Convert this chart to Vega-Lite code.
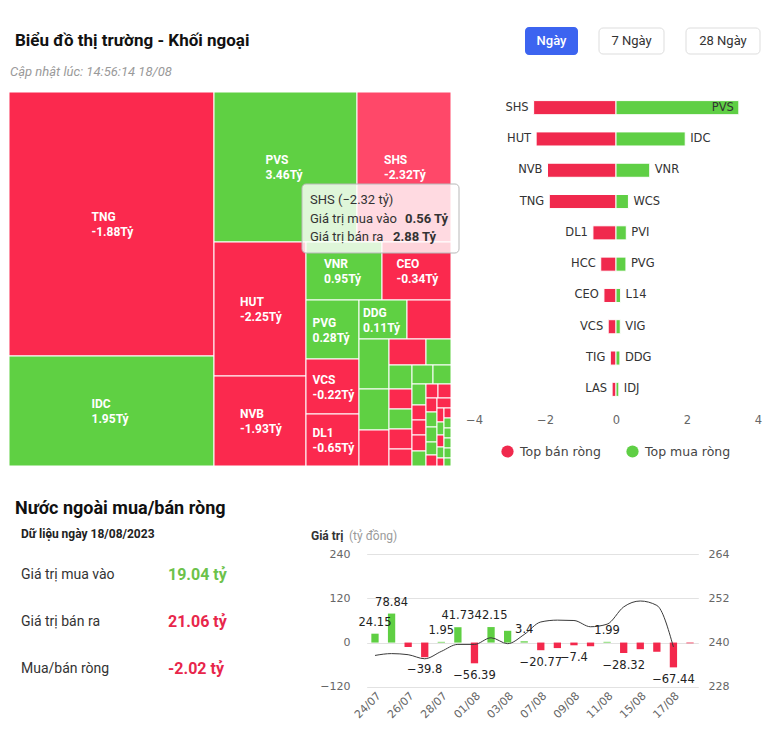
{
  "$schema": "https://vega.github.io/schema/vega-lite/v6.json",
  "width": 771,
  "height": 746,
  "autosize": {"type": "none"},
  "padding": 0,
  "background": "white",
  "config": {"view": {"stroke": null}, "font": "Roboto"},
  "datasets": {
    "treemap": [
      {"ma": "TNG", "rong": -1.88, "x0": 0, "x1": 205, "y0": 0, "y1": 264},
      {"ma": "IDC", "rong": 1.95, "x0": 0, "x1": 205, "y0": 264, "y1": 374},
      {"ma": "PVS", "rong": 3.46, "x0": 205, "x1": 348, "y0": 0, "y1": 150},
      {"ma": "SHS", "rong": -2.32, "mua": 0.56, "ban": 2.88, "x0": 348, "x1": 442, "y0": 0, "y1": 150},
      {"ma": "HUT", "rong": -2.25, "x0": 205, "x1": 297, "y0": 150, "y1": 284},
      {"ma": "NVB", "rong": -1.93, "x0": 205, "x1": 297, "y0": 284, "y1": 374},
      {"ma": "VNR", "rong": 0.95, "x0": 297, "x1": 373, "y0": 150, "y1": 208},
      {"ma": "CEO", "rong": -0.34, "x0": 373, "x1": 442, "y0": 150, "y1": 208},
      {"ma": "PVG", "rong": 0.28, "x0": 297, "x1": 350, "y0": 208, "y1": 267},
      {"ma": "VCS", "rong": -0.22, "x0": 297, "x1": 350, "y0": 267, "y1": 322},
      {"ma": "DL1", "rong": -0.65, "x0": 297, "x1": 350, "y0": 322, "y1": 374},
      {"ma": "DDG", "rong": 0.11, "x0": 350, "x1": 398, "y0": 208, "y1": 247},
      {"ma": "HCC", "rong": -0.43, "x0": 398, "x1": 442, "y0": 208, "y1": 247},
      {"ma": "WCS", "rong": 0.35, "x0": 350, "x1": 380, "y0": 247, "y1": 297},
      {"ma": "PVI", "rong": 0.29, "x0": 350, "x1": 380, "y0": 297, "y1": 338},
      {"ma": "TIG", "rong": -0.16, "x0": 350, "x1": 380, "y0": 338, "y1": 374},
      {"ma": "LAS", "rong": -0.11, "x0": 380, "x1": 417, "y0": 247, "y1": 273},
      {"ma": "L14", "rong": 0.13, "x0": 417, "x1": 442, "y0": 247, "y1": 273},
      {"ma": "VIG", "rong": 0.12, "x0": 380, "x1": 403, "y0": 273, "y1": 297},
      {"ma": "IDJ", "rong": 0.08, "x0": 403, "x1": 424, "y0": 273, "y1": 292},
      {"rong": 0.05, "x0": 424, "x1": 442, "y0": 273, "y1": 292},
      {"rong": -0.06, "x0": 380, "x1": 403, "y0": 297, "y1": 317},
      {"rong": 0.05, "x0": 380, "x1": 403, "y0": 317, "y1": 337},
      {"rong": -0.05, "x0": 380, "x1": 403, "y0": 337, "y1": 357},
      {"rong": -0.04, "x0": 380, "x1": 403, "y0": 357, "y1": 374},
      {"rong": 0.04, "x0": 403, "x1": 417, "y0": 292, "y1": 313},
      {"rong": -0.04, "x0": 403, "x1": 417, "y0": 313, "y1": 328},
      {"rong": -0.03, "x0": 403, "x1": 417, "y0": 328, "y1": 343},
      {"rong": -0.03, "x0": 403, "x1": 417, "y0": 343, "y1": 359},
      {"rong": 0.03, "x0": 403, "x1": 417, "y0": 359, "y1": 374},
      {"rong": -0.03, "x0": 417, "x1": 429, "y0": 292, "y1": 306},
      {"rong": -0.03, "x0": 429, "x1": 442, "y0": 292, "y1": 306},
      {"rong": -0.02, "x0": 417, "x1": 428, "y0": 306, "y1": 320},
      {"rong": 0.02, "x0": 417, "x1": 428, "y0": 320, "y1": 335},
      {"rong": 0.02, "x0": 417, "x1": 428, "y0": 335, "y1": 350},
      {"rong": 0.02, "x0": 417, "x1": 428, "y0": 350, "y1": 363},
      {"rong": -0.02, "x0": 417, "x1": 428, "y0": 363, "y1": 374},
      {"rong": -0.02, "x0": 428, "x1": 442, "y0": 306, "y1": 316},
      {"rong": -0.01, "x0": 428, "x1": 435, "y0": 316, "y1": 330},
      {"rong": 0.01, "x0": 428, "x1": 435, "y0": 330, "y1": 343},
      {"rong": -0.01, "x0": 428, "x1": 435, "y0": 343, "y1": 355},
      {"rong": 0.01, "x0": 428, "x1": 435, "y0": 355, "y1": 366},
      {"rong": -0.01, "x0": 428, "x1": 435, "y0": 366, "y1": 374},
      {"rong": -0.01, "x0": 435, "x1": 442, "y0": 316, "y1": 326},
      {"rong": 0.01, "x0": 435, "x1": 442, "y0": 326, "y1": 336},
      {"rong": 0.01, "x0": 435, "x1": 442, "y0": 336, "y1": 346},
      {"rong": 0.01, "x0": 435, "x1": 442, "y0": 346, "y1": 356},
      {"rong": 0.01, "x0": 435, "x1": 442, "y0": 356, "y1": 366},
      {"rong": 0.01, "x0": 435, "x1": 442, "y0": 366, "y1": 374}
    ],
    "top": [
      {"hang": 1, "ma": "SHS", "rong": -2.32, "nhom": "Top bán ròng"},
      {"hang": 2, "ma": "HUT", "rong": -2.25, "nhom": "Top bán ròng"},
      {"hang": 3, "ma": "NVB", "rong": -1.93, "nhom": "Top bán ròng"},
      {"hang": 4, "ma": "TNG", "rong": -1.88, "nhom": "Top bán ròng"},
      {"hang": 5, "ma": "DL1", "rong": -0.65, "nhom": "Top bán ròng"},
      {"hang": 6, "ma": "HCC", "rong": -0.43, "nhom": "Top bán ròng"},
      {"hang": 7, "ma": "CEO", "rong": -0.34, "nhom": "Top bán ròng"},
      {"hang": 8, "ma": "VCS", "rong": -0.22, "nhom": "Top bán ròng"},
      {"hang": 9, "ma": "TIG", "rong": -0.16, "nhom": "Top bán ròng"},
      {"hang": 10, "ma": "LAS", "rong": -0.11, "nhom": "Top bán ròng"},
      {"hang": 1, "ma": "PVS", "rong": 3.46, "nhom": "Top mua ròng"},
      {"hang": 2, "ma": "IDC", "rong": 1.95, "nhom": "Top mua ròng"},
      {"hang": 3, "ma": "VNR", "rong": 0.95, "nhom": "Top mua ròng"},
      {"hang": 4, "ma": "WCS", "rong": 0.35, "nhom": "Top mua ròng"},
      {"hang": 5, "ma": "PVI", "rong": 0.29, "nhom": "Top mua ròng"},
      {"hang": 6, "ma": "PVG", "rong": 0.28, "nhom": "Top mua ròng"},
      {"hang": 7, "ma": "L14", "rong": 0.13, "nhom": "Top mua ròng"},
      {"hang": 8, "ma": "VIG", "rong": 0.12, "nhom": "Top mua ròng"},
      {"hang": 9, "ma": "DDG", "rong": 0.11, "nhom": "Top mua ròng"},
      {"hang": 10, "ma": "IDJ", "rong": 0.08, "nhom": "Top mua ròng"}
    ],
    "nn": [
      {"ngay": "24/07", "rong": 24.15, "chiso": 236.5},
      {"ngay": "25/07", "rong": 78.84, "chiso": 237.0},
      {"ngay": "26/07", "rong": -12.0, "chiso": 236.7},
      {"ngay": "27/07", "rong": -39.8, "chiso": 235.6},
      {"ngay": "28/07", "rong": 1.95, "chiso": 237.6},
      {"ngay": "31/07", "rong": 41.73, "chiso": 239.5},
      {"ngay": "01/08", "rong": -56.39, "chiso": 239.5},
      {"ngay": "02/08", "rong": 42.15, "chiso": 241.3},
      {"ngay": "03/08", "rong": 32.0, "chiso": 239.7},
      {"ngay": "04/08", "rong": 3.4, "chiso": 242.2},
      {"ngay": "07/08", "rong": -20.77, "chiso": 245.6},
      {"ngay": "08/08", "rong": -15.0, "chiso": 246.1},
      {"ngay": "09/08", "rong": -7.4, "chiso": 246.0},
      {"ngay": "10/08", "rong": -10.0, "chiso": 244.3},
      {"ngay": "11/08", "rong": 1.99, "chiso": 245.0},
      {"ngay": "14/08", "rong": -28.32, "chiso": 249.7},
      {"ngay": "15/08", "rong": -18.0, "chiso": 251.3},
      {"ngay": "16/08", "rong": -25.0, "chiso": 250.1},
      {"ngay": "17/08", "rong": -67.44, "chiso": 238.8},
      {"ngay": "18/08", "rong": -2.02, "chiso": null}
    ],
    "tongket": [
      {"muc": "Giá trị mua vào", "gia_tri": 19.04},
      {"muc": "Giá trị bán ra", "gia_tri": 21.06},
      {"muc": "Mua/bán ròng", "gia_tri": -2.02}
    ]
  },
  "resolve": {
    "scale": {"x": "independent", "y": "independent", "color": "independent"},
    "axis": {"x": "independent", "y": "independent"},
    "legend": {"color": "independent"}
  },
  "layer": [
    {
      "data": {"values": [{}]},
      "mark": {"type": "text", "text": "Biểu đồ thị trường - Khối ngoại", "x": 15, "y": 41, "align": "left", "baseline": "middle", "fontSize": 17, "fontWeight": "bold", "color": "#111"},
      "encoding": {}
    },
    {
      "data": {"values": [{}]},
      "mark": {"type": "text", "text": "Cập nhật lúc: 14:56:14 18/08", "x": 10, "y": 72, "align": "left", "baseline": "middle", "fontSize": 13, "fontStyle": "italic", "color": "#9a9a9a"},
      "encoding": {}
    },
    {
      "data": {"values": [{}]},
      "mark": {"type": "rect", "x": 525, "x2": 578, "y": 27, "y2": 55, "fill": "#3c64f0", "cornerRadius": 4},
      "encoding": {}
    },
    {
      "data": {"values": [{}]},
      "mark": {"type": "rect", "x": 599, "x2": 664, "y": 28, "y2": 54, "fill": "white", "stroke": "#dddddd", "cornerRadius": 4},
      "encoding": {}
    },
    {
      "data": {"values": [{}]},
      "mark": {"type": "rect", "x": 686, "x2": 760, "y": 28, "y2": 54, "fill": "white", "stroke": "#dddddd", "cornerRadius": 4},
      "encoding": {}
    },
    {
      "data": {"values": [{}]},
      "mark": {"type": "text", "text": "Ngày", "x": 551.5, "y": 41, "align": "center", "baseline": "middle", "fontSize": 13, "fontWeight": 500, "color": "white"},
      "encoding": {}
    },
    {
      "data": {"values": [{}]},
      "mark": {"type": "text", "text": "7 Ngày", "x": 631.5, "y": 41, "align": "center", "baseline": "middle", "fontSize": 13, "color": "#333"},
      "encoding": {}
    },
    {
      "data": {"values": [{}]},
      "mark": {"type": "text", "text": "28 Ngày", "x": 723, "y": 41, "align": "center", "baseline": "middle", "fontSize": 13, "color": "#333"},
      "encoding": {}
    },
    {
      "data": {"name": "treemap"},
      "mark": {"type": "rect", "stroke": "white", "strokeWidth": 1},
      "encoding": {
        "x": {"field": "x0", "type": "quantitative", "scale": {"domain": [0, 442], "range": [9, 451], "nice": false, "zero": false}, "axis": null},
        "x2": {"field": "x1"},
        "y": {"field": "y0", "type": "quantitative", "scale": {"domain": [0, 374], "range": [92, 466], "nice": false, "zero": false}, "axis": null},
        "y2": {"field": "y1"},
        "color": {"condition": [{"test": "datum.ma === 'SHS'", "value": "#ff4869"}, {"test": "datum.rong < 0", "value": "#fb294e"}], "value": "#5fd043"}
      }
    },
    {
      "data": {"name": "treemap"},
      "transform": [
        {"filter": "datum.x1 - datum.x0 >= 45 && datum.y1 - datum.y0 >= 38"},
        {"calculate": "(datum.x0 + datum.x1) / 2", "as": "cx"},
        {"calculate": "(datum.y0 + datum.y1) / 2", "as": "cy"}
      ],
      "mark": {"type": "text", "align": "left", "baseline": "middle", "dx": -20, "dy": -7, "fontSize": 12, "fontWeight": "bold", "color": "white"},
      "encoding": {
        "x": {"field": "cx", "type": "quantitative", "scale": {"domain": [0, 442], "range": [9, 451], "nice": false, "zero": false}, "axis": null},
        "y": {"field": "cy", "type": "quantitative", "scale": {"domain": [0, 374], "range": [92, 466], "nice": false, "zero": false}, "axis": null},
        "text": {"field": "ma"}
      }
    },
    {
      "data": {"name": "treemap"},
      "transform": [
        {"filter": "datum.x1 - datum.x0 >= 45 && datum.y1 - datum.y0 >= 38"},
        {"calculate": "(datum.x0 + datum.x1) / 2", "as": "cx"},
        {"calculate": "(datum.y0 + datum.y1) / 2", "as": "cy"},
        {"calculate": "datum.rong + 'Tỷ'", "as": "nhan"}
      ],
      "mark": {"type": "text", "align": "left", "baseline": "middle", "dx": -20, "dy": 8, "fontSize": 12, "fontWeight": "bold", "color": "white"},
      "encoding": {
        "x": {"field": "cx", "type": "quantitative", "scale": {"domain": [0, 442], "range": [9, 451], "nice": false, "zero": false}, "axis": null},
        "y": {"field": "cy", "type": "quantitative", "scale": {"domain": [0, 374], "range": [92, 466], "nice": false, "zero": false}, "axis": null},
        "text": {"field": "nhan"}
      }
    },
    {
      "data": {"values": [{}]},
      "mark": {"type": "rect", "x": 302, "x2": 459, "y": 184, "y2": 253, "fill": "white", "fillOpacity": 0.8, "stroke": "#b8b8b8", "strokeWidth": 1, "cornerRadius": 4},
      "encoding": {}
    },
    {
      "data": {"name": "treemap"},
      "transform": [{"filter": "datum.ma === 'SHS'"}, {"calculate": "datum.ma + ' (' + format(datum.rong, '.2f') + ' tỷ)'", "as": "dong"}],
      "mark": {"type": "text", "x": 310, "y": 200, "align": "left", "baseline": "middle", "fontSize": 13, "color": "#333"},
      "encoding": {"text": {"field": "dong"}}
    },
    {
      "data": {"values": [{}]},
      "mark": {"type": "text", "text": "Giá trị mua vào", "x": 310, "y": 218.5, "align": "left", "baseline": "middle", "fontSize": 13, "color": "#333"},
      "encoding": {}
    },
    {
      "data": {"name": "treemap"},
      "transform": [{"filter": "datum.ma === 'SHS'"}, {"calculate": "format(datum.mua, '.2f') + ' Tỷ'", "as": "dong"}],
      "mark": {"type": "text", "x": 405, "y": 218.5, "align": "left", "baseline": "middle", "fontSize": 13, "fontWeight": "bold", "color": "#333"},
      "encoding": {"text": {"field": "dong"}}
    },
    {
      "data": {"values": [{}]},
      "mark": {"type": "text", "text": "Giá trị bán ra", "x": 310, "y": 237, "align": "left", "baseline": "middle", "fontSize": 13, "color": "#333"},
      "encoding": {}
    },
    {
      "data": {"name": "treemap"},
      "transform": [{"filter": "datum.ma === 'SHS'"}, {"calculate": "format(datum.ban, '.2f') + ' Tỷ'", "as": "dong"}],
      "mark": {"type": "text", "x": 393, "y": 237, "align": "left", "baseline": "middle", "fontSize": 13, "fontWeight": "bold", "color": "#333"},
      "encoding": {"text": {"field": "dong"}}
    },
    {
      "data": {"name": "top"},
      "mark": {"type": "bar", "stroke": "white", "strokeWidth": 1},
      "encoding": {
        "y": {"field": "hang", "type": "ordinal", "scale": {"type": "band", "domain": [1, 2, 3, 4, 5, 6, 7, 8, 9, 10], "range": [92, 405], "paddingInner": 0.55, "paddingOuter": 0.275}, "axis": null},
        "x": {"field": "rong", "type": "quantitative", "stack": null, "scale": {"domain": [-4, 4], "range": [474, 758], "nice": false, "zero": false},
          "axis": {"orient": "bottom", "offset": -336, "values": [-4, -2, 0, 2, 4], "title": null, "grid": false, "domain": false, "ticks": false, "tickSize": 0, "labelPadding": 4, "labelColor": "#666", "labelFontSize": 11.5, "labelFont": "DejaVu Sans", "labelFlush": false}},
        "color": {"field": "nhom", "type": "nominal", "scale": {"domain": ["Top bán ròng", "Top mua ròng"], "range": ["#f0294d", "#5fcf45"]},
          "legend": {"orient": "none", "legendX": 501, "legendY": 445, "direction": "horizontal", "title": null, "symbolType": "circle", "symbolSize": 150, "symbolStrokeWidth": 0, "labelFont": "DejaVu Sans", "labelFontSize": 12.5, "labelColor": "#444", "labelOffset": 6, "columnPadding": 25, "padding": 0}}
      }
    },
    {
      "data": {"name": "top"},
      "transform": [{"filter": "datum.rong < 0"}],
      "mark": {"type": "text", "align": "right", "baseline": "middle", "dx": -5, "fontSize": 11.5, "font": "DejaVu Sans", "color": "#333"},
      "encoding": {
        "y": {"field": "hang", "type": "ordinal", "scale": {"type": "band", "domain": [1, 2, 3, 4, 5, 6, 7, 8, 9, 10], "range": [92, 405], "paddingInner": 0.55, "paddingOuter": 0.275}, "axis": null},
        "x": {"field": "rong", "type": "quantitative", "scale": {"domain": [-4, 4], "range": [474, 758], "nice": false, "zero": false}, "axis": null},
        "text": {"field": "ma"}
      }
    },
    {
      "data": {"name": "top"},
      "transform": [{"filter": "datum.rong >= 0 && datum.rong <= 3"}],
      "mark": {"type": "text", "align": "left", "baseline": "middle", "dx": 5, "fontSize": 11.5, "font": "DejaVu Sans", "color": "#333"},
      "encoding": {
        "y": {"field": "hang", "type": "ordinal", "scale": {"type": "band", "domain": [1, 2, 3, 4, 5, 6, 7, 8, 9, 10], "range": [92, 405], "paddingInner": 0.55, "paddingOuter": 0.275}, "axis": null},
        "x": {"field": "rong", "type": "quantitative", "scale": {"domain": [-4, 4], "range": [474, 758], "nice": false, "zero": false}, "axis": null},
        "text": {"field": "ma"}
      }
    },
    {
      "data": {"name": "top"},
      "transform": [{"filter": "datum.rong > 3"}],
      "mark": {"type": "text", "align": "right", "baseline": "middle", "dx": -5, "fontSize": 11.5, "font": "DejaVu Sans", "color": "#333"},
      "encoding": {
        "y": {"field": "hang", "type": "ordinal", "scale": {"type": "band", "domain": [1, 2, 3, 4, 5, 6, 7, 8, 9, 10], "range": [92, 405], "paddingInner": 0.55, "paddingOuter": 0.275}, "axis": null},
        "x": {"field": "rong", "type": "quantitative", "scale": {"domain": [-4, 4], "range": [474, 758], "nice": false, "zero": false}, "axis": null},
        "text": {"field": "ma"}
      }
    },
    {
      "data": {"values": [{}]},
      "mark": {"type": "text", "text": "Nước ngoài mua/bán ròng", "x": 15, "y": 509, "align": "left", "baseline": "middle", "fontSize": 18, "fontWeight": "bold", "color": "#111"},
      "encoding": {}
    },
    {
      "data": {"values": [{}]},
      "mark": {"type": "text", "text": "Dữ liệu ngày 18/08/2023", "x": 21, "y": 534, "align": "left", "baseline": "middle", "fontSize": 12, "fontWeight": "bold", "color": "#222"},
      "encoding": {}
    },
    {
      "data": {"name": "tongket"},
      "mark": {"type": "text", "x": 21, "align": "left", "baseline": "middle", "fontSize": 14, "color": "#333"},
      "encoding": {
        "y": {"field": "muc", "type": "nominal", "sort": null, "scale": {"type": "point", "domain": ["Giá trị mua vào", "Giá trị bán ra", "Mua/bán ròng"], "range": [575, 669], "padding": 0}, "axis": null},
        "text": {"field": "muc"}
      }
    },
    {
      "data": {"name": "tongket"},
      "transform": [{"calculate": "datum.gia_tri + ' tỷ'", "as": "nhan"}],
      "mark": {"type": "text", "x": 168, "align": "left", "baseline": "middle", "fontSize": 16, "fontWeight": "bold"},
      "encoding": {
        "y": {"field": "muc", "type": "nominal", "sort": null, "scale": {"type": "point", "domain": ["Giá trị mua vào", "Giá trị bán ra", "Mua/bán ròng"], "range": [575, 669], "padding": 0}, "axis": null},
        "text": {"field": "nhan"},
        "color": {"condition": {"test": "datum.muc === 'Giá trị bán ra' || datum.gia_tri < 0", "value": "#e8264b"}, "value": "#6cc24a"}
      }
    },
    {
      "data": {"values": [{}]},
      "mark": {"type": "text", "text": "Giá trị", "x": 311, "y": 536, "align": "left", "baseline": "middle", "fontSize": 12, "fontWeight": "bold", "color": "#333"},
      "encoding": {}
    },
    {
      "data": {"values": [{}]},
      "mark": {"type": "text", "text": "(tỷ đồng)", "x": 349, "y": 536, "align": "left", "baseline": "middle", "fontSize": 12, "color": "#9a9a9a"},
      "encoding": {}
    },
    {
      "data": {"name": "nn"},
      "mark": {"type": "bar"},
      "encoding": {
        "x": {"field": "ngay", "type": "ordinal", "sort": null,
          "scale": {"type": "band", "domain": ["24/07", "25/07", "26/07", "27/07", "28/07", "31/07", "01/08", "02/08", "03/08", "04/08", "07/08", "08/08", "09/08", "10/08", "11/08", "14/08", "15/08", "16/08", "17/08", "18/08"], "range": [366.7, 698.3], "paddingInner": 0.56, "paddingOuter": 0.28},
          "axis": {"orient": "bottom", "offset": -59.3, "values": ["24/07", "26/07", "28/07", "01/08", "03/08", "07/08", "09/08", "11/08", "15/08", "17/08"], "title": null, "grid": false, "domain": false, "ticks": false, "tickSize": 0, "labelPadding": 3, "labelAngle": -45, "labelColor": "#666", "labelFontSize": 11, "labelFont": "DejaVu Sans"}},
        "y": {"field": "rong", "type": "quantitative", "scale": {"domain": [-120, 240], "range": [686.7, 554.3], "nice": false, "zero": false},
          "axis": {"orient": "left", "offset": -356, "values": [-120, 0, 120, 240], "title": null, "grid": true, "gridColor": "#e2e2e2", "domain": false, "ticks": false, "tickSize": 0, "labelPadding": 6, "labelColor": "#666", "labelFontSize": 11, "labelFont": "DejaVu Sans"}},
        "color": {"condition": {"test": "datum.rong < 0", "value": "#f3284c"}, "value": "#5fcf43"}
      }
    },
    {
      "data": {"name": "nn"},
      "mark": {"type": "line", "interpolate": "monotone", "color": "#3a3a3a", "strokeWidth": 1},
      "transform": [{"filter": "isValid(datum.chiso)"}],
      "encoding": {
        "x": {"field": "ngay", "type": "ordinal", "sort": null,
          "scale": {"type": "band", "domain": ["24/07", "25/07", "26/07", "27/07", "28/07", "31/07", "01/08", "02/08", "03/08", "04/08", "07/08", "08/08", "09/08", "10/08", "11/08", "14/08", "15/08", "16/08", "17/08", "18/08"], "range": [366.7, 698.3], "paddingInner": 0.56, "paddingOuter": 0.28}, "axis": null},
        "y": {"field": "chiso", "type": "quantitative", "scale": {"domain": [228, 264], "range": [686.7, 554.3], "nice": false, "zero": false},
          "axis": {"orient": "right", "offset": -69, "values": [228, 240, 252, 264], "title": null, "grid": false, "domain": false, "ticks": false, "tickSize": 0, "labelPadding": 6, "labelColor": "#666", "labelFontSize": 11, "labelFont": "DejaVu Sans"}}
      }
    },
    {
      "data": {"name": "nn"},
      "transform": [{"filter": {"field": "ngay", "oneOf": ["24/07", "25/07", "27/07", "28/07", "31/07", "01/08", "02/08", "04/08", "07/08", "09/08", "11/08", "14/08", "17/08"]}}, {"filter": "datum.rong >= 0"}],
      "mark": {"type": "text", "baseline": "middle", "align": "center", "dy": -11, "fontSize": 11.5, "font": "DejaVu Sans", "color": "#222"},
      "encoding": {
        "x": {"field": "ngay", "type": "ordinal", "sort": null,
          "scale": {"type": "band", "domain": ["24/07", "25/07", "26/07", "27/07", "28/07", "31/07", "01/08", "02/08", "03/08", "04/08", "07/08", "08/08", "09/08", "10/08", "11/08", "14/08", "15/08", "16/08", "17/08", "18/08"], "range": [366.7, 698.3], "paddingInner": 0.56, "paddingOuter": 0.28}, "axis": null},
        "y": {"field": "rong", "type": "quantitative", "scale": {"domain": [-120, 240], "range": [686.7, 554.3], "nice": false, "zero": false}, "axis": null},
        "text": {"field": "rong", "type": "quantitative", "format": ".2~f"}
      }
    },
    {
      "data": {"name": "nn"},
      "transform": [{"filter": {"field": "ngay", "oneOf": ["24/07", "25/07", "27/07", "28/07", "31/07", "01/08", "02/08", "04/08", "07/08", "09/08", "11/08", "14/08", "17/08"]}}, {"filter": "datum.rong < 0"}],
      "mark": {"type": "text", "baseline": "middle", "align": "center", "dy": 13, "fontSize": 11.5, "font": "DejaVu Sans", "color": "#222"},
      "encoding": {
        "x": {"field": "ngay", "type": "ordinal", "sort": null,
          "scale": {"type": "band", "domain": ["24/07", "25/07", "26/07", "27/07", "28/07", "31/07", "01/08", "02/08", "03/08", "04/08", "07/08", "08/08", "09/08", "10/08", "11/08", "14/08", "15/08", "16/08", "17/08", "18/08"], "range": [366.7, 698.3], "paddingInner": 0.56, "paddingOuter": 0.28}, "axis": null},
        "y": {"field": "rong", "type": "quantitative", "scale": {"domain": [-120, 240], "range": [686.7, 554.3], "nice": false, "zero": false}, "axis": null},
        "text": {"field": "rong", "type": "quantitative", "format": ".2~f"}
      }
    }
  ]
}
